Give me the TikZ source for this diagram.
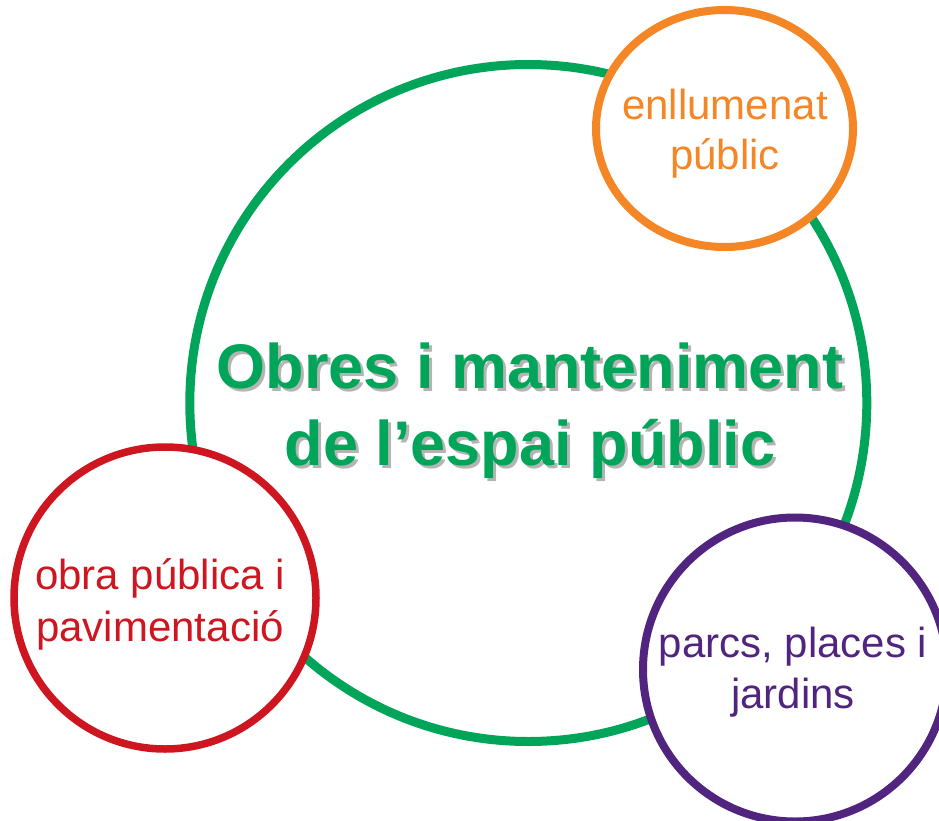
\documentclass[tikz,border=0pt]{standalone}
\usepackage{fontspec}
\setmainfont{Liberation Sans}
\definecolor{cgreen}{RGB}{0,165,90}
\definecolor{corange}{RGB}{244,134,38}
\definecolor{cred}{RGB}{206,22,32}
\definecolor{cpurple}{RGB}{80,36,127}
\definecolor{cshadow}{RGB}{180,180,180}
\begin{document}
\begin{tikzpicture}[x=1pt,y=-1pt,
  ring/.style={line width=8pt, fill=white},
  small/.style={inner sep=0pt, anchor=base, font=\fontsize{42}{50}\selectfont},
  title/.style={inner sep=0pt, anchor=base, font=\fontsize{63}{76}\selectfont\bfseries, text=cgreen},
  tshadow/.style={inner sep=0pt, anchor=base, font=\fontsize{63}{76}\selectfont\bfseries, text=cshadow}]
\useasboundingbox (0,0) rectangle (939,821);
\clip (0,0) rectangle (939,821);
\fill[white] (0,0) rectangle (939,821);
% main circle
\draw[draw=cgreen, line width=9pt, fill=white] (528.3,403) circle (338.5pt);
% title with shadow
\node[tshadow] (t1s) at (533,391) {Obres i manteniment};
\node[tshadow] (t2s) at (533,468) {de l’espai públic};
\node[title] (t1) at (530,388) {Obres i manteniment};
\node[title] (t2) at (530,465) {de l’espai públic};
% orange
\draw[ring, draw=corange] (724.5,128.5) ellipse [x radius=128.5pt, y radius=118.5pt];
\node[small, text=corange] (o1) at (725,120) {enllumenat};
\node[small, text=corange] (o2) at (725,170) {públic};
% red
\draw[ring, draw=cred, line width=7.5pt] (165,598) circle (151pt);
\node[small, text=cred] (r1) at (160,589) {obra pública i};
\node[small, text=cred] (r2) at (160,641) {pavimentació};
% purple
\draw[ring, draw=cpurple] (795,669.5) circle (152pt);
\node[small, text=cpurple] (p1) at (793,657) {parcs, places i};
\node[small, text=cpurple] (p2) at (793,708) {jardins};
\end{tikzpicture}
\end{document}
